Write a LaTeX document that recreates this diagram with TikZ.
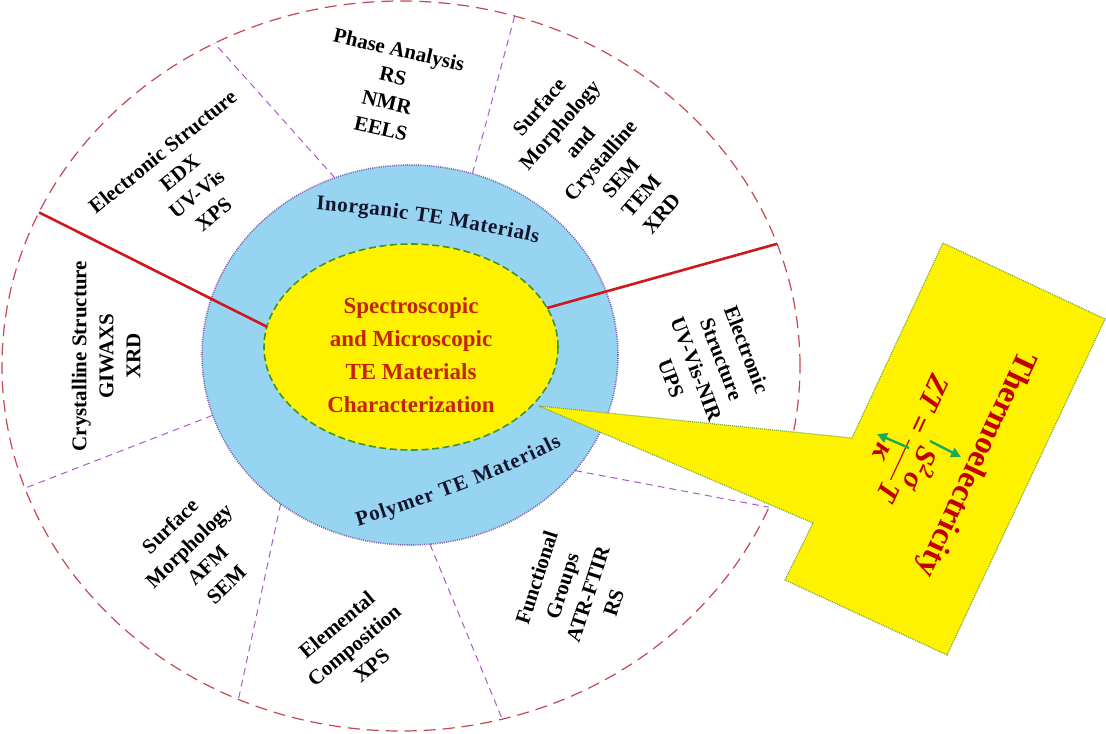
\documentclass[tikz,border=0pt]{standalone}
\usepackage{amsmath}
\usepackage{fontspec}
\setmainfont{Liberation Serif}
\usepackage{xcolor}
\usepackage{tikz}
\usetikzlibrary{shapes.geometric,arrows.meta,decorations.text}

\definecolor{edgered}{RGB}{196,72,80}
\definecolor{divpurple}{RGB}{170,90,200}
\definecolor{ringblue}{RGB}{150,212,242}
\definecolor{ringedge}{RGB}{130,100,170}
\definecolor{coregreen}{RGB}{60,150,40}
\definecolor{splitred}{RGB}{205,25,30}
\definecolor{titlered}{RGB}{196,36,6}
\definecolor{thermored}{RGB}{192,0,0}
\definecolor{calloutedge}{RGB}{120,170,60}
\definecolor{arrowgreen}{RGB}{30,170,80}
\definecolor{ringink}{RGB}{20,20,45}

\newcommand{\ringfont}{\color{ringink}\bfseries\fontsize{10.5}{12}\selectfont}

\begin{document}
\begin{tikzpicture}[
    x=0.5pt, y=-0.5pt,
    outerring/.style={ellipse, draw=edgered, line width=0.6pt, dash pattern=on 6pt off 3.5pt, inner sep=0pt, outer sep=0pt, minimum width=399pt, minimum height=365pt},
    ring/.style={ellipse, fill=ringblue, draw=ringedge, line width=0.8pt, dash pattern=on 0.5pt off 0.6pt, inner sep=0pt, outer sep=0pt, minimum width=208pt, minimum height=190pt},
    core/.style={ellipse, fill=yellow, draw=coregreen, line width=0.8pt, dash pattern=on 3.5pt off 1.8pt, inner sep=0pt, outer sep=0pt, minimum width=147pt, minimum height=103pt},
    divider/.style={draw=divpurple, line width=0.5pt, dash pattern=on 3.5pt off 2.5pt},
    splitline/.style={draw=splitred, line width=1.3pt},
    callout/.style={fill=yellow, draw=calloutedge, line width=0.6pt, dash pattern=on 0.5pt off 0.5pt},
    sectext/.style={align=center, inner sep=0pt, font=\bfseries\fontsize{10.5}{13.5}\selectfont},
    coretext/.style={align=center, inner sep=0pt, text=titlered, font=\bfseries\fontsize{11.5}{16.5}\selectfont},
    greenarrow/.style={draw=arrowgreen, line width=1.2pt, -{Triangle[length=5pt,width=5pt]}}
]
    \useasboundingbox (0,0) rectangle (1106,733);

    \node[outerring] (outer) at (401,366) {};
    \node[ring] (ring) at (410,355) {};
    \node[core] (core) at (411,347) {};

    \draw[divider] (ring.113) -- (outer.120.5);
    \draw[divider] (ring.71) -- (outer.72);
    \draw[divider] (ring.-35) -- (outer.-21);
    \draw[divider] (ring.-84) -- (outer.-74);
    \draw[divider] (ring.229) -- (outer.244.3);
    \draw[divider] (ring.197) -- (outer.198.5);

    \draw[splitline] (core.172) -- (outer.157);
    \draw[splitline] (core.16.6) -- (outer.18.5);

    \node[coretext] (title) at (411,355) {Spectroscopic\\and Microscopic\\TE Materials\\Characterization};

    \path[decorate, decoration={text along path, text align=fit to path, text={|\ringfont|Inorganic TE Materials}}]
        (316,210) .. controls (390,215) and (465,227) .. (538,243);
    \path[decorate, decoration={text along path, text align=fit to path, text={|\ringfont|Polymer TE Materials}}]
        (358,526) .. controls (425,505) and (500,478) .. (562,446);

    \node[sectext, rotate=-13] (phase) at (390,89) {Phase Analysis\\RS\\NMR\\EELS};
    \node[sectext, rotate=39] (elecl) at (188,183) {Electronic Structure\\EDX\\UV-Vis\\XPS};
    \node[sectext, rotate=49] (morph) at (600,160) {Surface\\Morphology\\and\\Crystalline\\SEM\\TEM\\XRD};
    \node[sectext, rotate=-69] (elecr) at (709,364) {Electronic\\Structure\\UV-Vis-NIR\\UPS};
    \node[sectext, rotate=72] (func) at (575,590) {Functional\\Groups\\ATR-FTIR\\RS};
    \node[sectext, rotate=40] (elem) at (354,645) {Elemental\\Composition\\XPS};
    \node[sectext, rotate=44] (afm) at (198,555) {Surface\\Morphology\\AFM\\SEM};
    \node[sectext, rotate=90] (cryst) at (106,356) {Crystalline Structure\\GIWAXS\\XRD};

    \coordinate (tip) at (539,406);
    \draw[callout] (tip) -- (852,438) -- (943,243) -- (1105,319) -- (947,655) -- (785,580) -- (813,523) -- cycle;

    \node[rotate=-115, inner sep=0pt, text=thermored, font=\bfseries\fontsize{16}{18}\selectfont] (thermo) at (975,464) {Thermoelectricity};
    \node[rotate=-115, inner sep=0pt, text=thermored, font=\bfseries\itshape\fontsize{15}{18}\selectfont] (zt) at (915,439)
        {ZT = $\dfrac{\mbox{S\textsuperscript{2}σ}}{\mbox{κ}}$T};

    \coordinate (up1) at (930,441);
    \coordinate (up2) at (961,457);
    \coordinate (dn1) at (909,448);
    \coordinate (dn2) at (877,434);
    \draw[greenarrow] (up1) -- (up2);
    \draw[greenarrow] (dn1) -- (dn2);
\end{tikzpicture}
\end{document}
